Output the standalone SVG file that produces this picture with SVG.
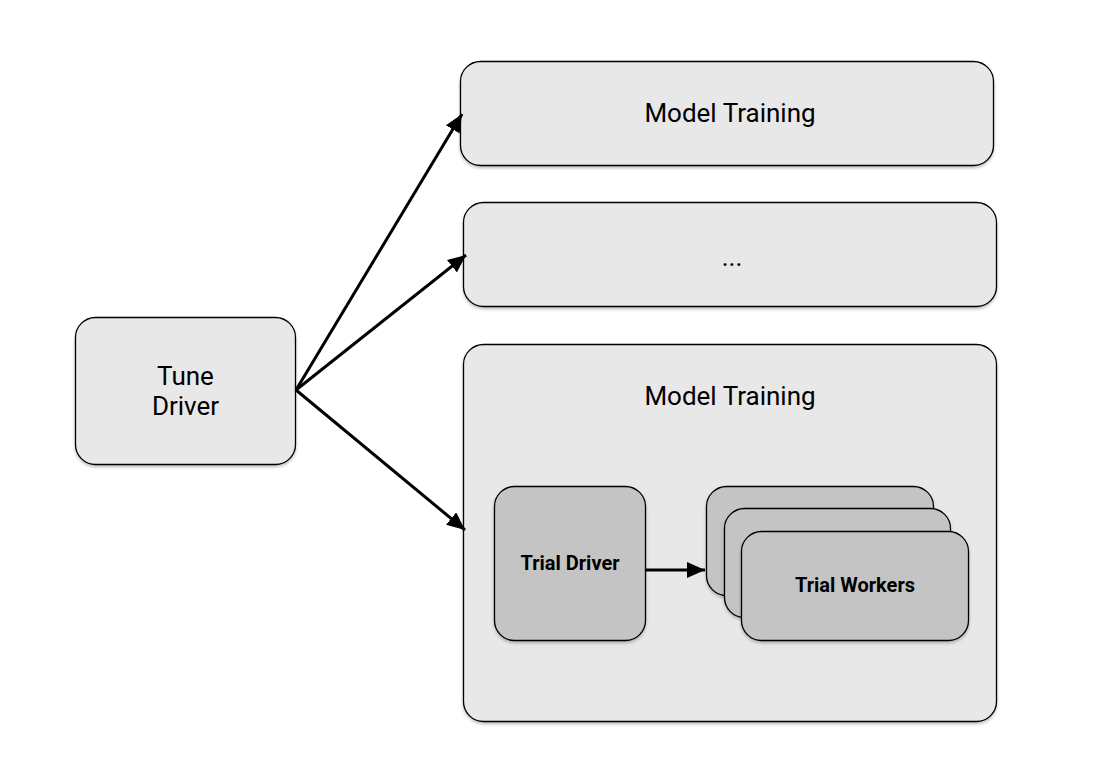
<svg xmlns="http://www.w3.org/2000/svg" width="1100" height="778" viewBox="0 0 1100 778">
<style>
.box{fill:#e8e8e8;stroke:#000;stroke-width:1.3;filter:url(#sh)}
.dark{fill:#c4c4c4;stroke:#000;stroke-width:1.3;filter:url(#sh)}
.lbl{font-family:Roboto,"Liberation Sans",sans-serif;font-size:26px;fill:#000;text-anchor:middle}
.blbl{font-family:Roboto,"Liberation Sans",sans-serif;font-size:20px;font-weight:bold;fill:#000;text-anchor:middle}
.conn{stroke:#000;stroke-width:3;fill:none;marker-end:url(#ah)}
</style>
<defs>
<filter id="sh" x="-10%" y="-10%" width="120%" height="130%">
<feDropShadow dx="0" dy="2" stdDeviation="1.5" flood-color="#000" flood-opacity="0.25"/>
</filter>
<marker id="ah" viewBox="-18 -8 18 16" refX="0" refY="0" markerWidth="18" markerHeight="16" markerUnits="userSpaceOnUse" orient="auto">
<path d="M-18,-8 L0,0 L-18,8 z" fill="#000"/>
</marker>
</defs>
<rect width="1100" height="778" fill="#fff"/>
<g id="tune-driver">
<rect class="box" x="75.5" y="317.5" width="220" height="147" rx="20"/>
<text class="lbl" x="185.5" y="385">Tune</text>
<text class="lbl" x="185.5" y="415">Driver</text>
</g>
<g id="model-training-1">
<rect class="box" x="460.5" y="61.5" width="533" height="104" rx="20"/>
<text class="lbl" x="730" y="122">Model Training</text>
</g>
<g id="ellipsis">
<rect class="box" x="463.5" y="202.5" width="533" height="104" rx="20"/>
<text class="lbl" x="732" y="266">...</text>
</g>
<g id="model-training-2">
<rect class="box" x="463.5" y="344.5" width="533" height="377" rx="20"/>
<text class="lbl" x="730" y="405">Model Training</text>
</g>
<g id="trial-driver">
<rect class="dark" x="494.5" y="486.5" width="151" height="154" rx="20"/>
<text class="blbl" x="570" y="570">Trial Driver</text>
</g>
<g id="trial-workers">
<rect class="dark" x="706.5" y="486.5" width="227" height="109" rx="20"/>
<rect class="dark" x="724.5" y="508.5" width="226" height="109" rx="20"/>
<rect class="dark" x="741.5" y="531.5" width="227" height="109" rx="20"/>
<text class="blbl" x="855" y="592">Trial Workers</text>
</g>
<g id="connectors">
<line class="conn" x1="296" y1="390" x2="462" y2="114"/>
<line class="conn" x1="296" y1="390" x2="466" y2="255"/>
<line class="conn" x1="296" y1="390" x2="465" y2="530"/>
<line class="conn" x1="646" y1="570" x2="705" y2="570"/>
</g>
</svg>
